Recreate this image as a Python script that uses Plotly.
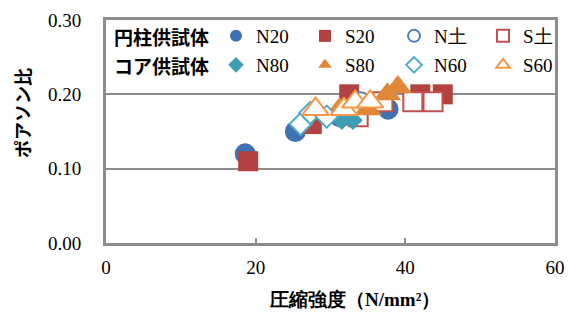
import plotly.graph_objects as go

# ---- data ----
N20_x = [18.6, 25.3, 31.2, 37.7]
N20_y = [0.12, 0.15, 0.17, 0.18]
S20_x = [19.0, 27.5, 32.5, 42.0, 45.0]
S20_y = [0.11, 0.16, 0.20, 0.20, 0.20]
Ndo_x = [31.5, 34.0, 37.0]
Ndo_y = [0.17, 0.19, 0.19]
Sdo_x = [33.7, 37.0, 41.0, 43.7]
Sdo_y = [0.17, 0.19, 0.19, 0.19]
N80_x = [31.5, 33.0]
N80_y = [0.165, 0.165]
S80_x = [31.2, 35.0, 37.6, 39.0]
S80_y = [0.18, 0.18, 0.20, 0.21]
N60_x = [26.0, 27.3, 29.5]
N60_y = [0.16, 0.175, 0.17]
S60_x = [28.0, 31.8, 33.3, 35.3]
S60_y = [0.18, 0.18, 0.19, 0.19]

x_ticks = [0, 20, 40, 60]
y_ticks = [0.0, 0.1, 0.2, 0.3]
row_titles = ["円柱供試体", "コア供試体"]

SERIF = "Times New Roman, Liberation Serif, serif"
JP = "Noto Sans CJK JP"

fig = go.Figure()

def add(name, xs, ys, symbol, size, color, fill, legend, lw=2):
    fig.add_trace(go.Scatter(
        x=xs, y=ys, mode="markers", name=name, legend=legend,
        marker=dict(symbol=symbol, size=size,
                    color=color if fill else "white",
                    line=dict(color=color, width=0 if fill else lw)),
    ))

add("N20", N20_x, N20_y, "circle", 21, "#4271B3", True, "legend")
add("S20", S20_x, S20_y, "square", 20, "#B2413F", True, "legend")
add("N土", Ndo_x, Ndo_y, "circle", 19, "#4A7EBD", False, "legend")
add("S土", Sdo_x, Sdo_y, "square", 19, "#C0504D", False, "legend")
add("N80", N80_x, N80_y, "diamond", 15, "#3E9DB3", True, "legend2")
add("S80", S80_x, S80_y, "triangle-up", 24, "#E0883A", True, "legend2")
add("N60", N60_x, N60_y, "diamond", 17, "#4BACC6", False, "legend2")
add("S60", S60_x, S60_y, "triangle-up", 23, "#F79646", False, "legend2")

leg_common = dict(
    orientation="h", bgcolor="rgba(0,0,0,0)", borderwidth=0,
    font=dict(family=SERIF, size=19, color="black"),
    entrywidth=44, entrywidthmode="pixels",
    itemsizing="constant", xanchor="left", yanchor="middle",
)

fig.update_layout(
    width=572, height=315,
    margin=dict(l=106, r=17, t=20, b=72, autoexpand=False),
    paper_bgcolor="white", plot_bgcolor="white",
    showlegend=True,
    legend=dict(x=(216 - 106) / 449, y=(243 - 36) / 223, **leg_common),
    legend2=dict(x=(216 - 106) / 449, y=(243 - 65) / 223, **leg_common),
    xaxis=dict(range=[0, 60], tickvals=x_ticks, showgrid=False,
               showline=True, linecolor="#8C8C8C", linewidth=3, mirror=True,
               ticks="inside", ticklen=5, tickcolor="#8C8C8C", tickwidth=2,
               ticklabelstandoff=5,
               tickfont=dict(family=SERIF, size=19, color="black"), zeroline=False),
    yaxis=dict(range=[0, 0.30], tickvals=y_ticks, tickformat=".2f",
               showgrid=True, gridcolor="#8C8C8C", gridwidth=2,
               showline=True, linecolor="#8C8C8C", linewidth=3, mirror=True,
               ticks="inside", ticklen=5, tickcolor="#8C8C8C", tickwidth=2,
               ticklabelstandoff=18,
               tickfont=dict(family=SERIF, size=19, color="black"), zeroline=False),
    annotations=[
        dict(text="<b>圧縮強度（N/mm²）</b>", xref="paper", yref="paper",
             x=(354 - 106) / 449, y=(243 - 299) / 223, xanchor="center", yanchor="middle",
             showarrow=False, font=dict(family=SERIF, size=19, color="black")),
        dict(text="<b>ポアソン比</b>", xref="paper", yref="paper",
             x=(22 - 106) / 449, y=(243 - 113) / 223, xanchor="center", yanchor="middle",
             textangle=-90, showarrow=False,
             font=dict(family=JP, size=18, color="black")),
        dict(text="<b>" + row_titles[0] + "</b>", xref="paper", yref="paper",
             x=(112 - 106) / 449, y=(243 - 36) / 223, xanchor="left", yanchor="middle",
             showarrow=False, font=dict(family=JP, size=19, color="black")),
        dict(text="<b>" + row_titles[1] + "</b>", xref="paper", yref="paper",
             x=(112 - 106) / 449, y=(243 - 65) / 223, xanchor="left", yanchor="middle",
             showarrow=False, font=dict(family=JP, size=19, color="black")),
    ],
)

fig.write_html("out.html", config={"displayModeBar": False},
               post_script="document.body.style.margin='0';")
